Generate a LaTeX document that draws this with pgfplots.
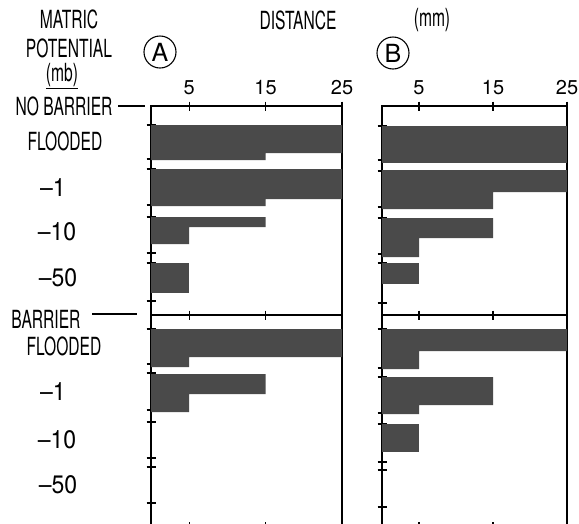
\documentclass[border=0pt]{standalone}
\usepackage{pgfplots}
\pgfplotsset{compat=1.18}
\usepackage{fontspec}
\setmainfont{TeX Gyre Heros}
\newfontfamily\wordfont{TeX Gyre Heros}[FakeStretch=0.78]
\definecolor{barcol}{HTML}{4a4a4a}
\newcommand{\wf}{\wordfont\fontsize{20}{20}\selectfont}
\newcommand{\nf}{\fontsize{23}{23}\selectfont}
\newcommand{\W}[1]{\scalebox{1}[1.25]{#1}}
\newcommand{\N}[1]{\scalebox{1}[1.1]{#1}}
\pgfplotsset{
  panel/.style={scale only axis, anchor=north west, xmin=0, xmax=25,
    y dir=reverse, enlargelimits=false, xtick={5,15,25},
    tick align=center, major tick length=9pt,
    axis line style={line width=1.1pt},
    every tick/.style={black, line width=1.1pt},
    yticklabels={}, xtick pos=both, ytick pos=left,
    xticklabel style={font=\fontsize{20}{20}\selectfont, yshift=3pt},
    /pgf/number format/assume math mode=true},
  toppanel/.style={panel, xticklabel pos=upper, ymin=0, ymax=20.9, height=209pt},
  botpanel/.style={panel, xticklabel=\empty, ymin=20.9, ymax=42.0, height=211pt},
  bar/.style={fill=barcol, draw=none, mark=none}
}
\begin{document}
\begin{tikzpicture}[x=1pt,y=1pt]
\useasboundingbox (0,0) rectangle (579,-523);
% Panel A top
\begin{axis}[toppanel, at={(151pt,-106pt)}, width=191pt,
  ytick={1.9,5.3,6.3,9.9,11.1,14.7,15.7,19.5}]
\addplot[bar] coordinates {(0,1.9) (25,1.9) (25,4.7) (15,4.7) (15,5.4) (0,5.4)};
\addplot[bar] coordinates {(0,6.3) (25,6.3) (25,9.3) (15,9.3) (15,10.0) (0,10.0)};
\addplot[bar] coordinates {(0,11.1) (15,11.1) (15,12.1) (5,12.1) (5,13.8) (0,13.8)};
\addplot[bar] coordinates {(0,15.7) (5,15.7) (5,18.7) (0,18.7)};
\end{axis}
% Panel A bottom
\begin{axis}[botpanel, at={(151pt,-315pt)}, width=191pt,
  ytick={22.3,25.8,26.7,30.4,31.6,35.2,36.1,39.7}]
\addplot[bar] coordinates {(0,22.3) (25,22.3) (25,25.1) (5,25.1) (5,26.1) (0,26.1)};
\addplot[bar] coordinates {(0,26.8) (15,26.8) (15,28.8) (5,28.8) (5,30.6) (0,30.6)};
\end{axis}
% Panel B top
\begin{axis}[toppanel, at={(382pt,-106pt)}, width=185pt,
  ytick={2.0,5.4,6.5,10.1,11.2,14.8,15.7,19.7}]
\addplot[bar] coordinates {(0,2.0) (25,2.0) (25,5.7) (0,5.7)};
\addplot[bar] coordinates {(0,6.4) (25,6.4) (25,8.6) (15,8.6) (15,10.3) (0,10.3)};
\addplot[bar] coordinates {(0,11.2) (15,11.2) (15,13.2) (5,13.2) (5,15.1) (0,15.1)};
\addplot[bar] coordinates {(0,15.7) (5,15.7) (5,17.8) (0,17.8)};
\end{axis}
% Panel B bottom
\begin{axis}[botpanel, at={(382pt,-315pt)}, width=185pt,
  ytick={22.3,26.2,27.1,30.7,31.8,35.6,36.4,40.1}]
\addplot[bar] coordinates {(0,22.3) (25,22.3) (25,24.5) (5,24.5) (5,26.3) (0,26.3)};
\addplot[bar] coordinates {(0,27.1) (15,27.1) (15,29.9) (5,29.9) (5,30.8) (0,30.8)};
\addplot[bar] coordinates {(0,31.8) (5,31.8) (5,34.6) (0,34.6)};
\end{axis}
% Header texts
\node[font=\wf] at (69,-19) {\W{MATRIC}};
\node[font=\wf] at (69,-48) {\W{POTENTIAL}};
\node[font=\wf, inner sep=1pt] at (62,-76) {\W{\underline{(mb)}}};
\node[font=\wf] at (298,-20) {\W{DISTANCE}};
\node[font=\wf] at (432,-20) {\W{(mm)}};
\node[draw, circle, line width=1.1pt, minimum size=32pt, inner sep=0pt, font=\fontsize{25}{25}\selectfont] at (160,-52) {A};
\node[draw, circle, line width=1.1pt, minimum size=32pt, inner sep=0pt, font=\fontsize{25}{25}\selectfont] at (393,-53) {B};
% Row labels
\node[font=\wf, anchor=east] at (116,-106) {\W{NO BARRIER}};
\draw[line width=1.1pt] (118,-106) -- (145,-106);
\node[font=\wf] at (65,-141) {\W{FLOODED}};
\node[font=\nf] at (53,-188) {\N{--1}};
\node[font=\nf] at (57,-232) {\N{--10}};
\node[font=\nf] at (58,-278) {\N{--50}};
\node[font=\wf, anchor=east] at (84,-319) {\W{BARRIER}};
\draw[line width=1.1pt] (92,-314) -- (137,-314);
\node[font=\wf] at (64,-346) {\W{FLOODED}};
\node[font=\nf] at (53,-392) {\N{--1}};
\node[font=\nf] at (57,-440) {\N{--10}};
\node[font=\nf] at (58,-485) {\N{--50}};
\end{tikzpicture}
\end{document}
